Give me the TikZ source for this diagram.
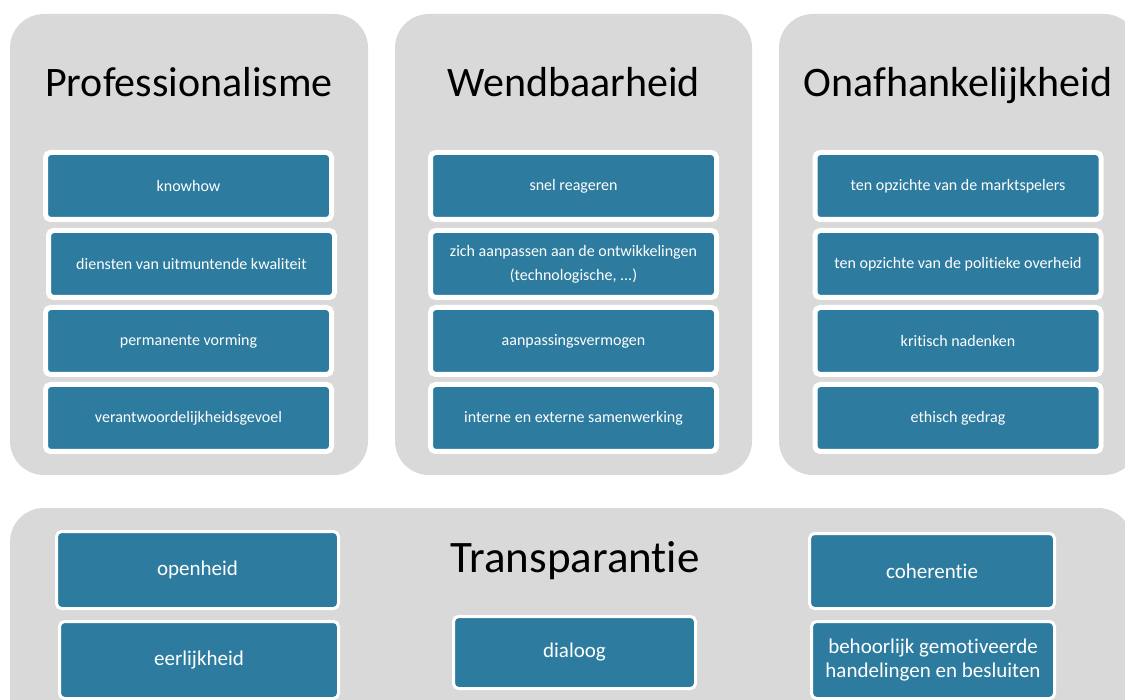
\documentclass[tikz,border=0pt]{standalone}
\usepackage{fontspec}
\setmainfont{Carlito}[Ligatures={NoCommon}]
\definecolor{panelgray}{HTML}{D9D9D9}
\definecolor{tealbox}{HTML}{2D7C9F}
\begin{document}
\begin{tikzpicture}[x=1pt,y=-1pt,
  panel/.style={fill=panelgray, draw=none, rounded corners=34pt},
  itembox/.style={draw=white, line width=5pt, fill=tealbox, rounded corners=5pt,
    text=white, font=\fontsize{16}{24}\selectfont, align=center, inner sep=0pt},
  lowbox/.style={draw=white, line width=3pt, fill=tealbox, rounded corners=5pt,
    text=white, font=\fontsize{21}{24.5}\selectfont, align=center, inner sep=0pt},
  ttl/.style={font=\fontsize{42}{50}\selectfont, anchor=base, inner sep=0pt},
]
\clip (0,0) rectangle (1125,700);
\fill[white] (0,0) rectangle (1125,700);
% panels
\path[panel] (10,14) rectangle (368,475);
\path[panel] (395,14) rectangle (752,475);
\path[panel] (779,14) rectangle (1138,475);
\path[panel] (10,508) rectangle (1132,760);
% titles
\node[ttl] (t1) at (189,97) {Professionalisme};
\node[ttl] (t2) at (573.5,97) {Wendbaarheid};
\node[ttl] (t3) at (958,97) {Onafhankelijkheid};
\node[ttl, font=\fontsize{45}{54}\selectfont] (t4) at (575,572) {Transparantie};
% panel 1
\node[itembox, minimum width=286pt, minimum height=67pt] (p1) at (188.5,186) {knowhow};
\node[itembox, minimum width=286pt, minimum height=67pt] (p2) at (191.5,264) {diensten van uitmuntende kwaliteit};
\node[itembox, minimum width=286pt, minimum height=67pt] (p3) at (188.5,341) {permanente vorming};
\node[itembox, minimum width=286pt, minimum height=67pt] (p4) at (188.5,418) {verantwoordelijkheidsgevoel};
% panel 2
\node[itembox, minimum width=286pt, minimum height=67pt] (w1) at (573.5,186) {snel reageren};
\node[itembox, minimum width=286pt, minimum height=67pt] (w2) at (573.5,264) {zich aanpassen aan de ontwikkelingen\\(technologische, ...)};
\node[itembox, minimum width=286pt, minimum height=67pt] (w3) at (573.5,341) {aanpassingsvermogen};
\node[itembox, minimum width=286pt, minimum height=67pt] (w4) at (573.5,418) {interne en externe samenwerking};
% panel 3
\node[itembox, minimum width=286pt, minimum height=67pt] (o1) at (958,186) {ten opzichte van de marktspelers};
\node[itembox, minimum width=286pt, minimum height=67pt] (o2) at (958,264) {ten opzichte van de politieke overheid};
\node[itembox, minimum width=286pt, minimum height=67pt] (o3) at (958,341) {kritisch nadenken};
\node[itembox, minimum width=286pt, minimum height=67pt] (o4) at (958,418) {ethisch gedrag};
% bottom panel
\node[lowbox, minimum width=282pt, minimum height=77pt] (b1) at (197.5,570) {openheid};
\node[lowbox, minimum width=279pt, minimum height=77pt] (b2) at (199,660) {eerlijkheid};
\node[lowbox, minimum width=242pt, minimum height=72pt] (b3) at (574.5,652.5) {dialoog};
\node[lowbox, minimum width=245pt, minimum height=75pt] (b4) at (932,571) {coherentie};
\node[lowbox, minimum width=243pt, minimum height=77pt] (b5) at (933,660) {behoorlijk gemotiveerde\\handelingen en besluiten};
\end{tikzpicture}
\end{document}
